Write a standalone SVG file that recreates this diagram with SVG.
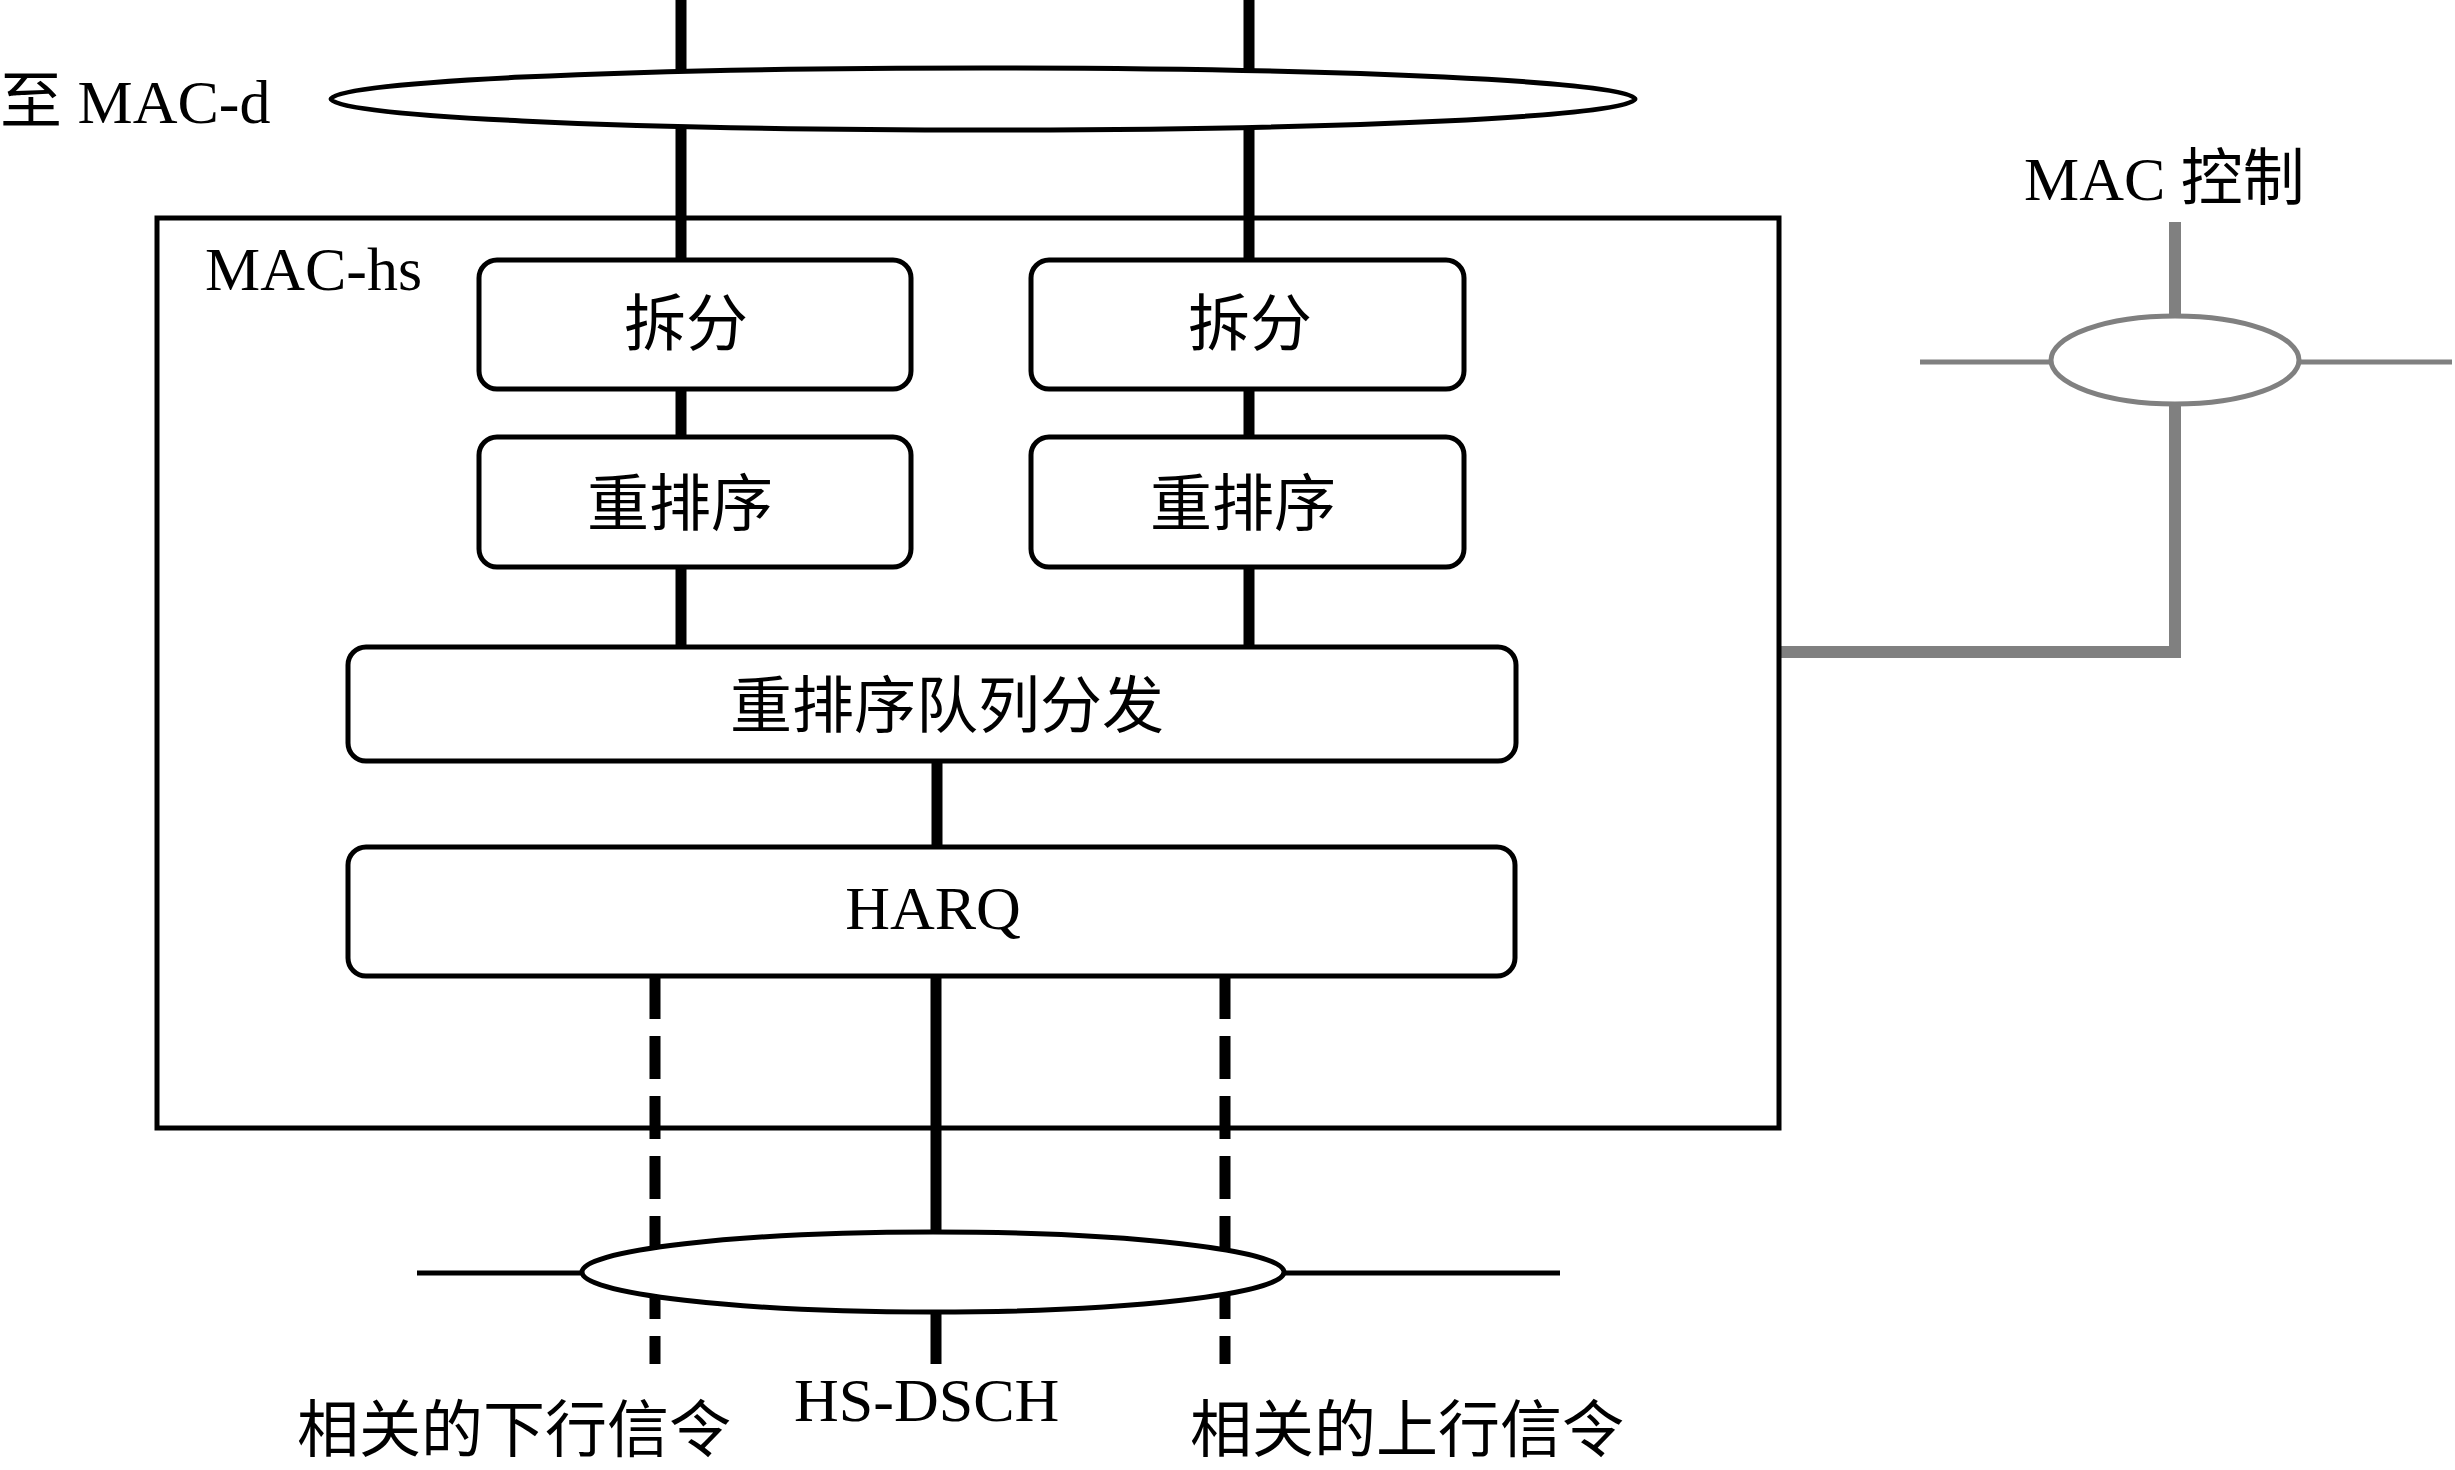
<svg xmlns="http://www.w3.org/2000/svg" width="2455" height="1470" viewBox="0 0 2455 1470">
<style>
  .t { font-family: "Liberation Serif", "Noto Sans CJK SC", serif; font-size: 62px; fill: #000; }
  .c { text-anchor: middle; }
  .box { fill: #fff; stroke: #000; stroke-width: 5; }
  .bus { fill: #fff; stroke: #000; stroke-width: 5; }
  .thick { stroke: #000; stroke-width: 11; fill: none; }
  .dash { stroke: #000; stroke-width: 11; fill: none; stroke-dasharray: 43 17; }
  .thin { stroke: #000; stroke-width: 5; fill: none; }
  .gray { stroke: #808080; fill: none; }
</style>
<rect width="2455" height="1470" fill="#fff"/>
<g id="connectors">
  <line class="thick" x1="681" y1="0" x2="681" y2="260"/>
  <line class="thick" x1="1249" y1="0" x2="1249" y2="260"/>
  <line class="thick" x1="681" y1="389" x2="681" y2="437"/>
  <line class="thick" x1="1249" y1="389" x2="1249" y2="437"/>
  <line class="thick" x1="681" y1="567" x2="681" y2="647"/>
  <line class="thick" x1="1249" y1="567" x2="1249" y2="647"/>
  <line class="thick" x1="937" y1="761" x2="937" y2="847"/>
  <line class="thick" x1="936" y1="976" x2="936" y2="1364"/>
  <line class="dash" x1="655" y1="976" x2="655" y2="1364"/>
  <line class="dash" x1="1225" y1="976" x2="1225" y2="1364"/>
  <line class="thin" x1="417" y1="1273" x2="1560" y2="1273"/>
  <polyline class="gray" stroke-width="12" points="1779,652 2175,652 2175,404"/>
  <line class="gray" stroke-width="12" x1="2175" y1="222" x2="2175" y2="316"/>
  <line class="gray" stroke-width="5" x1="1920" y1="362" x2="2452" y2="362"/>
</g>
<g id="mac-d-bus">
  <ellipse class="bus" cx="983" cy="99" rx="652" ry="31"/>
  <text class="t" x="0" y="123">至 MAC-d</text>
</g>
<g id="mac-hs">
  <rect x="157" y="218" width="1622" height="910" fill="none" stroke="#000" stroke-width="5"/>
  <text class="t" x="205" y="290">MAC-hs</text>
</g>
<g id="split-1">
  <rect class="box" x="479" y="260" width="432" height="129" rx="18"/>
  <text class="t c" x="686" y="346">拆分</text>
</g>
<g id="split-2">
  <rect class="box" x="1031" y="260" width="433" height="129" rx="18"/>
  <text class="t c" x="1250" y="346">拆分</text>
</g>
<g id="reorder-1">
  <rect class="box" x="479" y="437" width="432" height="130" rx="18"/>
  <text class="t c" x="680" y="526">重排序</text>
</g>
<g id="reorder-2">
  <rect class="box" x="1031" y="437" width="433" height="130" rx="18"/>
  <text class="t c" x="1243" y="526">重排序</text>
</g>
<g id="queue-dist">
  <rect class="box" x="348" y="647" width="1168" height="114" rx="18"/>
  <text class="t c" x="947" y="728">重排序队列分发</text>
</g>
<g id="harq">
  <rect class="box" x="348" y="847" width="1167" height="129" rx="18"/>
  <text class="t c" x="933" y="929">HARQ</text>
</g>
<g id="hs-dsch-bus">
  <ellipse class="bus" cx="933" cy="1272" rx="351" ry="40"/>
  <text class="t" x="794" y="1421">HS-DSCH</text>
  <text class="t" x="297" y="1452">相关的下行信令</text>
  <text class="t" x="1190" y="1452">相关的上行信令</text>
</g>
<g id="mac-control">
  <ellipse cx="2175" cy="360" rx="124" ry="44" fill="#fff" stroke="#808080" stroke-width="5"/>
  <text class="t" x="2024" y="200">MAC 控制</text>
</g>
</svg>
